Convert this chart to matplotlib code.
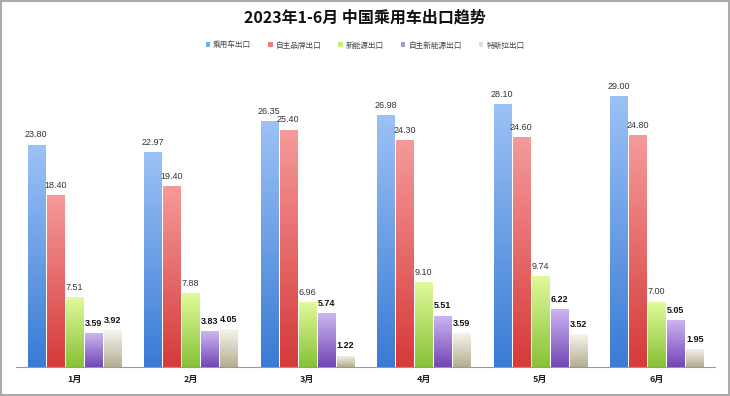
import matplotlib.pyplot as plt
import numpy as np
from matplotlib.colors import LinearSegmentedColormap
from matplotlib.patches import Rectangle

plt.rcParams['font.family'] = ['Noto Sans CJK SC', 'DejaVu Sans']

months = ["1月", "2月", "3月", "4月", "5月", "6月"]
series_names = ["乘用车出口", "自主品牌出口", "新能源出口", "自主新能源出口", "特斯拉出口"]
passenger = [23.80, 22.97, 26.35, 26.98, 28.10, 29.00]
own_brand = [18.40, 19.40, 25.40, 24.30, 24.60, 24.80]
new_energy = [7.51, 7.88, 6.96, 9.10, 9.74, 7.00]
own_new_energy = [3.59, 3.83, 5.74, 5.51, 6.22, 5.05]
tesla = [3.92, 4.05, 1.22, 3.59, 3.52, 1.95]

values = [passenger, own_brand, new_energy, own_new_energy, tesla]
# (top colour, bottom colour)
grads = [("#9cc2f5", "#3a7bd5"),
         ("#f59a9a", "#d63a3a"),
         ("#e2fa9c", "#86c236"),
         ("#cdb6f2", "#7346b5"),
         ("#f6f4ec", "#b3ae92")]
legend_colors = ["#7aa8ea", "#ee7c7c", "#c6ec80", "#ab92e0", "#e2dfcf"]
bold_label = [False, False, False, True, True]

fig = plt.figure(figsize=(7.3, 3.96), dpi=100)
ax = fig.add_axes([16 / 730, 29 / 396, 699 / 730, 300 / 396])

n = len(values)
bw = 0.146
step = 0.164
x = np.arange(len(months))
for i, vals in enumerate(values):
    cmap = LinearSegmentedColormap.from_list("g%d" % i, [grads[i][1], grads[i][0]])
    xs = x + (i - (n - 1) / 2) * step
    bars = ax.bar(xs, vals, width=bw, color="none", zorder=2)
    for b, v in zip(bars, vals):
        x0 = b.get_x()
        im = ax.imshow(np.linspace(0, 1, 100).reshape(-1, 1), cmap=cmap, origin="lower",
                       extent=[x0, x0 + bw, 0, v], aspect="auto", zorder=2)
        im.set_clip_path(b)
        ax.text(b.get_x() + bw / 2, v + 0.55, "%.2f" % v, ha="center", va="bottom",
                fontsize=6.5, family=["Liberation Sans", "DejaVu Sans"],
                fontweight="bold" if bold_label[i] else "normal",
                color="#111111" if bold_label[i] else "#333333", zorder=3)
    ax.bar([0], [0], color=legend_colors[i], label=series_names[i])

ax.set_xlim(-0.5, len(months) - 0.5)
ax.set_ylim(0, 32.1)
ax.set_xticks(x)
ax.set_xticklabels(months, fontsize=6.5, fontweight="bold", color="#222222")
ax.tick_params(axis="x", length=0, pad=6)
ax.set_yticks([])
for s in ["top", "right", "left"]:
    ax.spines[s].set_visible(False)
ax.spines["bottom"].set_color("#999999")
ax.spines["bottom"].set_linewidth(0.8)

fig.text(0.5, 0.955, "2023年1-6月 中国乘用车出口趋势", ha="center", va="center",
         fontsize=11.5, fontweight="bold", color="#111111")
fig.legend(loc="center", bbox_to_anchor=(0.5, 0.885), ncol=5, frameon=False,
           fontsize=5.5, handlelength=0.6, handleheight=0.6, columnspacing=2.2,
           handletextpad=0.4, labelcolor="#444444")

fig.patches.append(Rectangle((0.002, 0.003), 0.996, 0.994, transform=fig.transFigure,
                             fill=False, edgecolor="#aaaaaa", linewidth=1.5))

fig.savefig("out.png", dpi=100)
